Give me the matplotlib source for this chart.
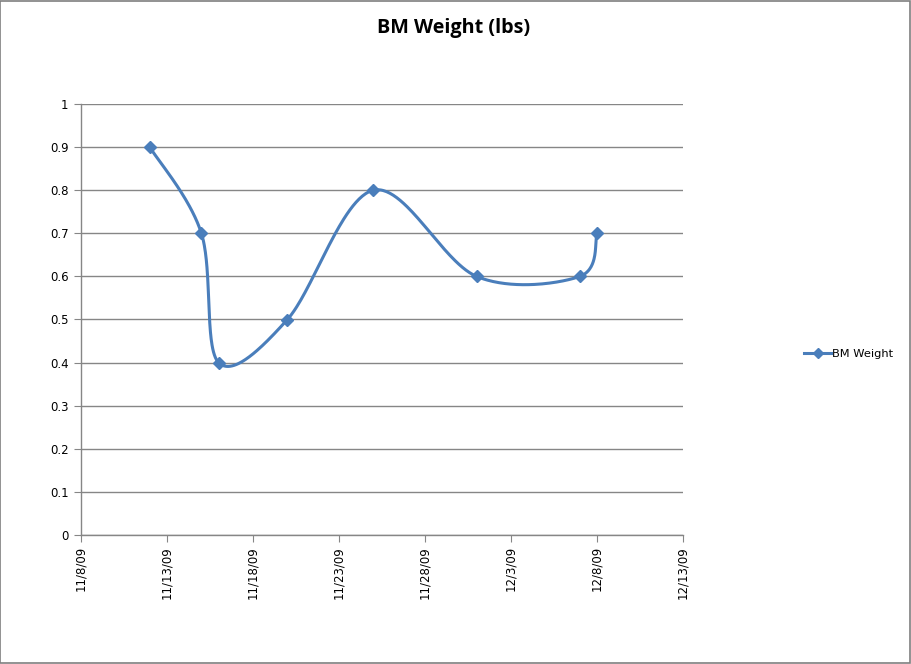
import numpy as np
import matplotlib
matplotlib.use("Agg")
import matplotlib.pyplot as plt
import matplotlib.dates as mdates
from matplotlib.ticker import FuncFormatter, MultipleLocator, FixedLocator
from matplotlib.patches import Rectangle
import datetime as dt

dates = ["2009-11-12", "2009-11-15", "2009-11-16", "2009-11-20",
         "2009-11-25", "2009-12-01", "2009-12-07", "2009-12-08"]
weights = [0.9, 0.7, 0.4, 0.5, 0.8, 0.6, 0.6, 0.7]
tick_dates = ["2009-11-08", "2009-11-13", "2009-11-18", "2009-11-23",
              "2009-11-28", "2009-12-03", "2009-12-08", "2009-12-13"]
tick_labels = ["11/8/09", "11/13/09", "11/18/09", "11/23/09",
               "11/28/09", "12/3/09", "12/8/09", "12/13/09"]
title = "BM Weight (lbs)"
series_name = "BM Weight"

color = "#4A7EBB"
grid_color = "#868686"

fig = plt.figure(figsize=(9.11, 6.64), dpi=100)
fig.patches.append(Rectangle((0.0005, 0.0008), 0.998, 0.997, transform=fig.transFigure,
                             fill=False, edgecolor="#7f7f7f", linewidth=1.2))
ax = fig.add_axes([81/911, 129/664, 602/911, 431/664])

to_num = lambda s: mdates.date2num(dt.datetime.strptime(s, "%Y-%m-%d"))
xd = np.array([to_num(d) for d in dates])
yd = np.array(weights)
xt = [to_num(d) for d in tick_dates]

ax.set_xlim(xt[0], xt[-1])
ax.set_ylim(0, 1)

# Excel-style smoothing: Bezier with Catmull-Rom control points in display space
fig.canvas.draw()
pts = ax.transData.transform(np.column_stack([xd, yd]))
n = len(pts)
curve = []
for i in range(n - 1):
    p0 = pts[i - 1] if i > 0 else pts[i]
    p1 = pts[i]
    p2 = pts[i + 1]
    p3 = pts[i + 2] if i + 2 < n else pts[i + 1]
    c1 = p1 + (p2 - p0) / 6.0
    c2 = p2 - (p3 - p1) / 6.0
    t = np.linspace(0, 1, 60)[:, None]
    seg = ((1 - t) ** 3) * p1 + 3 * ((1 - t) ** 2) * t * c1 + 3 * (1 - t) * t ** 2 * c2 + t ** 3 * p2
    curve.append(seg if i == 0 else seg[1:])
curve = np.vstack(curve)
curve_data = ax.transData.inverted().transform(curve)

ax.plot(curve_data[:, 0], curve_data[:, 1], color=color, lw=2.2, solid_capstyle="round", zorder=3)
ax.plot(xd, yd, linestyle="none", marker="D", markersize=6, color=color, zorder=4)

# legend proxy
ax.plot([], [], color=color, lw=2.2, marker="D", markersize=5, label=series_name)
leg = ax.legend(loc="center left", bbox_to_anchor=(1.184, 0.42), frameon=False,
                fontsize=8.2, handlelength=2.4, handletextpad=0.05)

ax.yaxis.set_major_locator(MultipleLocator(0.1))
ax.yaxis.set_major_formatter(FuncFormatter(lambda v, p: ("%g" % round(v, 1))))
ax.xaxis.set_major_locator(FixedLocator(xt))
ax.set_xticklabels(tick_labels, rotation=90)

ax.tick_params(axis="x", labelsize=8.5, length=5, color=grid_color, pad=3, direction="out")
ax.tick_params(axis="y", labelsize=8.5, length=5, color=grid_color, pad=4, direction="out")

ax.grid(axis="y", color=grid_color, linewidth=1.0)
ax.set_axisbelow(True)
for s in ["top", "right"]:
    ax.spines[s].set_visible(False)
for s in ["left", "bottom"]:
    ax.spines[s].set_color(grid_color)
    ax.spines[s].set_linewidth(1.0)

fig.text(454/911, 1 - 28/664, title, ha="center", va="center",
         fontsize=14.2, fontweight="bold", family="Open Sans")

fig.savefig("out.png", dpi=100)
